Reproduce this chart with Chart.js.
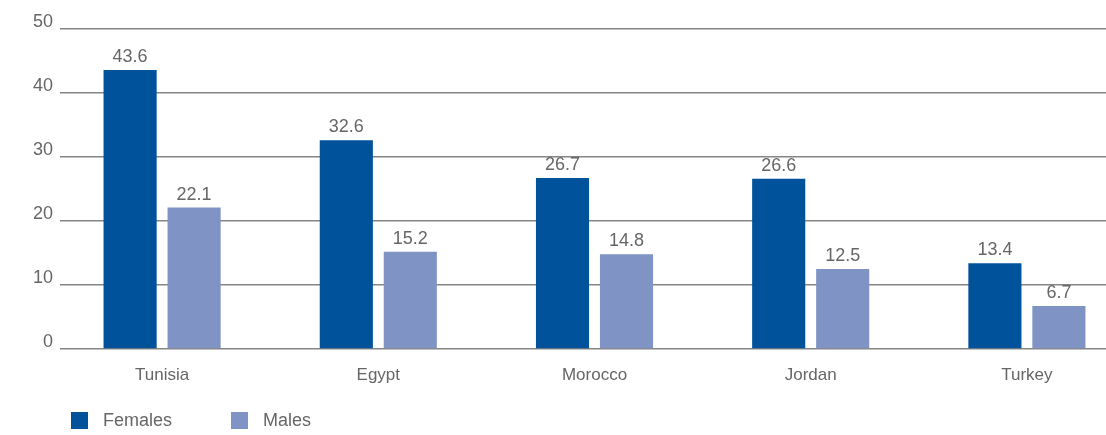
<!DOCTYPE html>
<html>
<head>
<meta charset="utf-8">
<script src="https://cdn.jsdelivr.net/npm/chart.js@4"></script>
<style>
  html, body { margin: 0; padding: 0; background: #fff; overflow: hidden; }
  #wrap { width: 1140px; height: 435px; }
</style>
</head>
<body>
<div id="wrap"><canvas id="myBarChart" width="1140" height="435"></canvas></div>
<script>
// Data
var countries = ["Tunisia", "Egypt", "Morocco", "Jordan", "Turkey"];
var females = [43.6, 32.6, 26.7, 26.6, 13.4];
var males = [22.1, 15.2, 14.8, 12.5, 6.7];
var yTicks = [0, 10, 20, 30, 40, 50];

var textColor = "#666666";
var fontFamily = "'Liberation Sans', Arial, sans-serif";

// Gridlines start a little right of the plot edge, leave a gap after the tick labels
var gridGap = {
  id: "gridGap",
  beforeDatasetsDraw: function (chart) {
    var a = chart.chartArea;
    chart.ctx.save();
    chart.ctx.fillStyle = "#ffffff";
    chart.ctx.fillRect(a.left - 1, a.top - 3, 7, a.bottom - a.top + 6);
    chart.ctx.restore();
  },
};

// Value labels above each bar
var valueLabels = {
  id: "valueLabels",
  afterDatasetsDraw: function (chart) {
    var ctx = chart.ctx;
    ctx.save();
    ctx.font = "18px " + fontFamily;
    ctx.fillStyle = textColor;
    ctx.textAlign = "center";
    ctx.textBaseline = "bottom";
    chart.data.datasets.forEach(function (ds, i) {
      chart.getDatasetMeta(i).data.forEach(function (bar, j) {
        ctx.fillText(ds.data[j].toFixed(1), bar.x, bar.y - 4);
      });
    });
    ctx.restore();
  },
};

// Legend at the bottom left
var bottomLegend = {
  id: "bottomLegend",
  afterDraw: function (chart) {
    var ctx = chart.ctx;
    var starts = [71, 231];
    ctx.save();
    ctx.font = "18px " + fontFamily;
    ctx.textBaseline = "middle";
    ctx.textAlign = "left";
    chart.data.datasets.forEach(function (ds, i) {
      ctx.fillStyle = ds.backgroundColor;
      ctx.fillRect(starts[i], 412, 17, 17);
      ctx.fillStyle = textColor;
      ctx.fillText(ds.label, starts[i] + 32, 421);
    });
    ctx.restore();
  },
};

var data = {
  labels: countries,
  datasets: [
    {
      label: "Females",
      backgroundColor: "#00529b",
      data: females,
      categoryPercentage: 0.592,
      barPercentage: 0.83,
    },
    {
      label: "Males",
      backgroundColor: "#7f94c5",
      data: males,
      categoryPercentage: 0.592,
      barPercentage: 0.83,
    },
  ],
};

var options = {
  responsive: false,
  animation: false,
  layout: { padding: { top: 29, right: 5, left: 0, bottom: 0 } },
  scales: {
    x: {
      grid: { display: false },
      border: { display: false },
      ticks: {
        color: textColor,
        padding: 8,
        font: { size: 17, family: fontFamily },
      },
      afterFit: function (scale) {
        scale.height = 86;
      },
    },
    y: {
      min: 0,
      max: 50,
      afterBuildTicks: function (scale) {
        scale.ticks = yTicks.map(function (v) {
          return { value: v };
        });
      },
      grid: { color: "#858585", lineWidth: 1.5, drawTicks: false },
      border: { display: false },
      ticks: {
        color: textColor,
        padding: 1,
        labelOffset: -7,
        font: { size: 18, family: fontFamily },
      },
      afterFit: function (scale) {
        scale.width = 54;
      },
    },
  },
  plugins: {
    legend: { display: false },
    tooltip: { enabled: false },
  },
};

var ctx = document.getElementById("myBarChart").getContext("2d");
var myBarChart = new Chart(ctx, {
  type: "bar",
  data: data,
  options: options,
  plugins: [gridGap, valueLabels, bottomLegend],
});
</script>
</body>
</html>
